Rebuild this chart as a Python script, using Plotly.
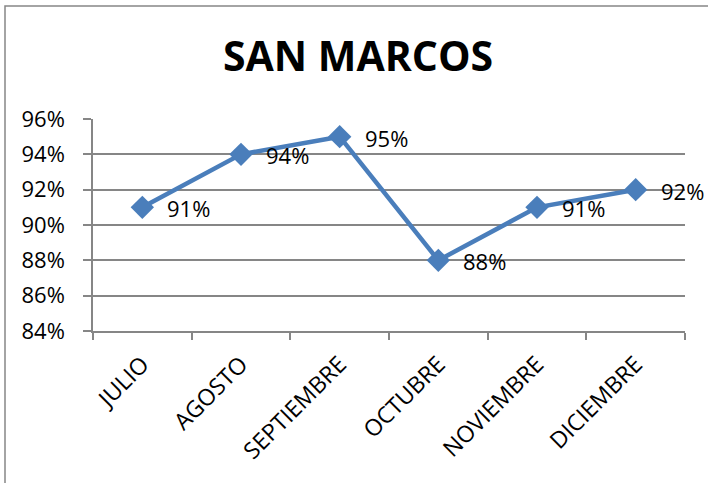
import plotly.graph_objects as go

months = ["JULIO", "AGOSTO", "SEPTIEMBRE", "OCTUBRE", "NOVIEMBRE", "DICIEMBRE"]
values = [0.91, 0.94, 0.95, 0.88, 0.91, 0.92]
y_ticks = [0.84, 0.86, 0.88, 0.90, 0.92, 0.94, 0.96]
title = "SAN MARCOS"

W, H = 708, 483
L, R, T, B = 93, 23, 119, 152
pw, ph = W - L - R, H - T - B

FONT = "Open Sans"
GRAY = "#868686"
BLUE = "#4a7ebb"

fig = go.Figure()
fig.add_trace(go.Scatter(
    x=months, y=values, mode="lines+markers",
    line=dict(color=BLUE, width=4.5),
    marker=dict(symbol="diamond", size=18, color=BLUE),
    hoverinfo="skip", showlegend=False,
))

for m, v in zip(months, values):
    fig.add_annotation(x=m, y=v, text=f"{round(v*100)}%", showarrow=False,
                       xanchor="left", yanchor="middle", xshift=23, yshift=-1,
                       font=dict(family=FONT, size=22, color="black"))

# outer chart border (left and top visible)
px = lambda p: (p - L) / pw
py = lambda p: (H - B - p) / ph
fig.add_shape(type="rect", xref="paper", yref="paper",
              x0=px(5), x1=px(760), y0=py(540), y1=py(6),
              line=dict(color=GRAY, width=1.5), fillcolor="rgba(0,0,0,0)", layer="below")

fig.update_layout(
    width=W, height=H,
    margin=dict(l=L, r=R, t=T, b=B),
    paper_bgcolor="white", plot_bgcolor="white",
    title=dict(text=f"<b>{title}</b>", x=358 / W, xref="container", xanchor="center",
               y=1 - 57 / H, yanchor="middle",
               font=dict(family=FONT, size=41, color="black")),
    font=dict(family=FONT, color="black"),
    xaxis=dict(
        type="category", range=[-0.5, 5.5], tickangle=-45,
        tickson="boundaries", ticks="outside", ticklen=7, tickcolor=GRAY, tickwidth=1.5,
        showline=True, linecolor=GRAY, linewidth=1.5, showgrid=False,
        ticklabelstandoff=9,
        tickfont=dict(family=FONT, size=23, color="black"),
    ),
    yaxis=dict(
        range=[0.84, 0.96], tickvals=y_ticks, tickformat=".0%",
        ticks="outside", ticklen=8, tickcolor=GRAY, tickwidth=1.5,
        showline=True, linecolor=GRAY, linewidth=1.5,
        showgrid=True, gridcolor=GRAY, gridwidth=1.5, zeroline=False,
        ticklabelstandoff=14,
        tickfont=dict(family=FONT, size=22, color="black"),
    ),
)

fig.write_html("out.html", config={"displayModeBar": False},
               post_script="document.body.style.margin='0';")
